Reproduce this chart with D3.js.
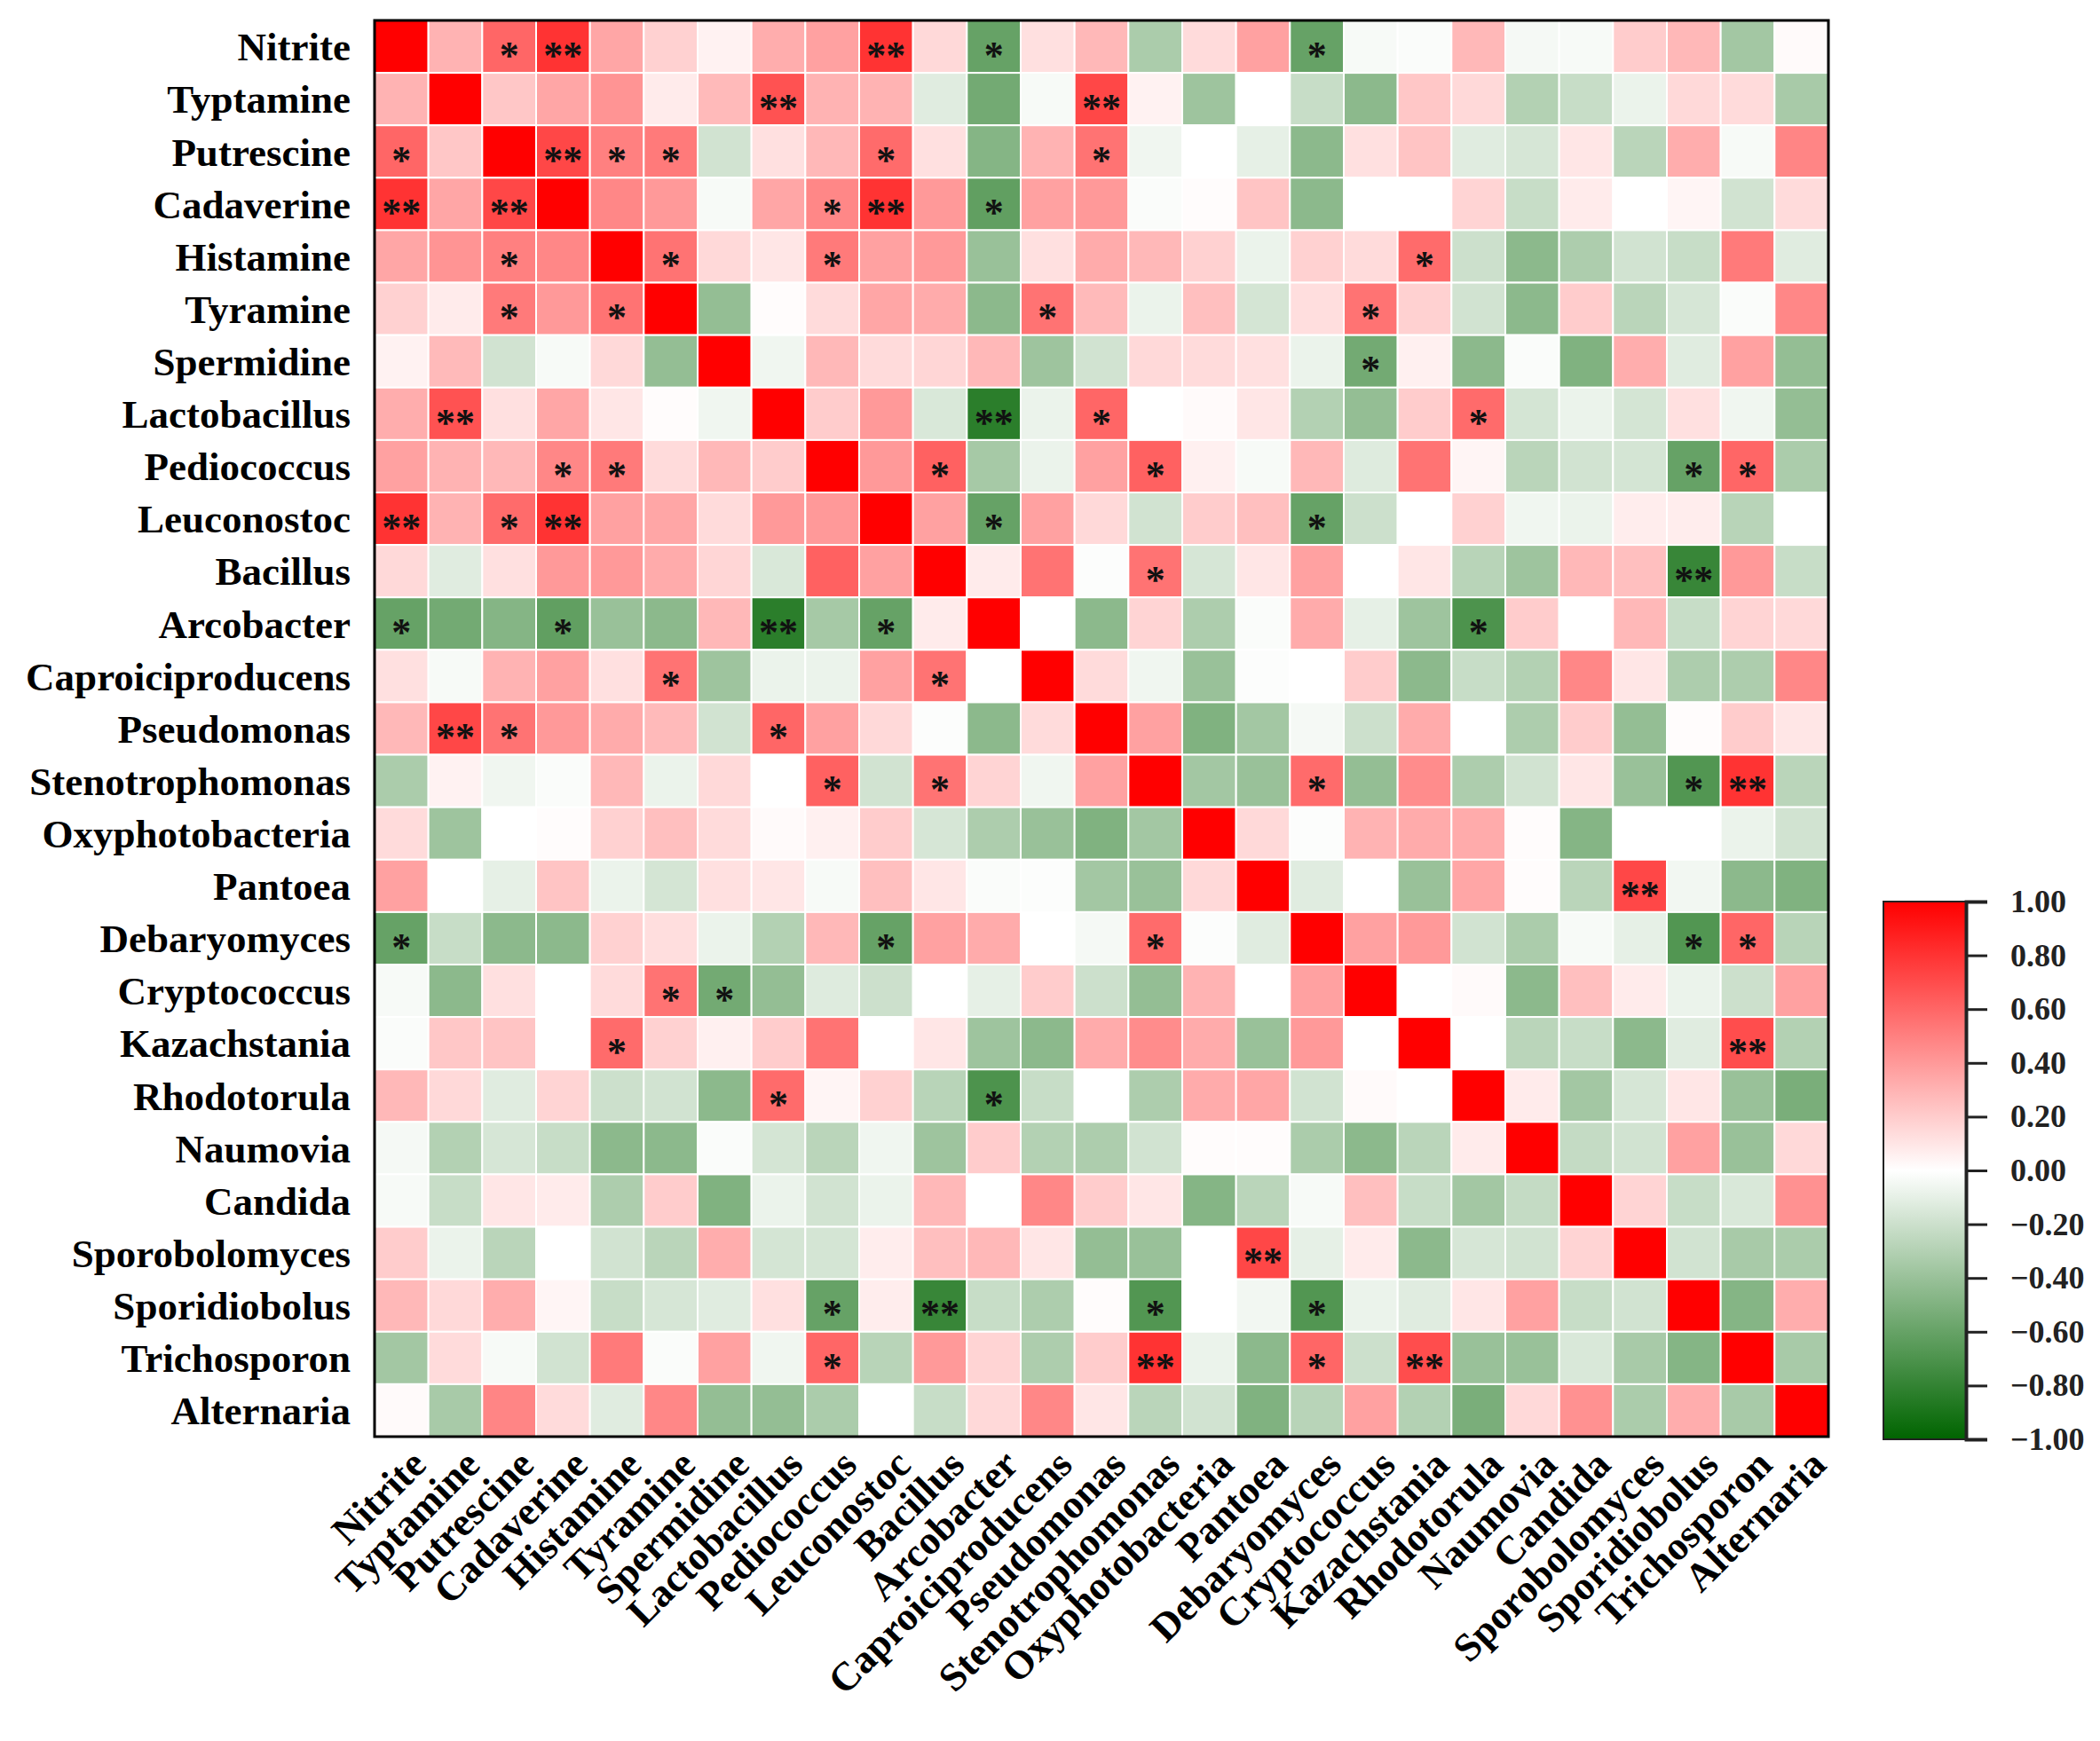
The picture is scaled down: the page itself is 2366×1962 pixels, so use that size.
<!DOCTYPE html>
<html>
<head>
<meta charset="utf-8">
<script src="https://cdn.jsdelivr.net/npm/d3@7"></script>
<style>
  body { margin: 0; background: #fff; }
  text { font-family: "Liberation Serif", "Times New Roman", serif; font-weight: bold; }
</style>
</head>
<body>
<div id="chart"></div>
<script>
// names (rows top->bottom, columns left->right)
const names = [
  "Nitrite","Typtamine","Putrescine","Cadaverine","Histamine","Tyramine","Spermidine",
  "Lactobacillus","Pediococcus","Leuconostoc","Bacillus","Arcobacter","Caproiciproducens",
  "Pseudomonas","Stenotrophomonas","Oxyphotobacteria","Pantoea","Debaryomyces",
  "Cryptococcus","Kazachstania","Rhodotorula","Naumovia","Candida","Sporobolomyces",
  "Sporidiobolus","Trichosporon","Alternaria"
];

// correlation, lower triangle (row i -> columns 0..i-1), matrix is symmetric
const lowerTri = [
  [],
  [0.30],
  [0.60, 0.22],
  [0.80, 0.35, 0.72],
  [0.35, 0.42, 0.50, 0.47],
  [0.18, 0.08, 0.52, 0.40, 0.55],
  [0.05, 0.27, -0.18, -0.03, 0.15, -0.42],
  [0.32, 0.68, 0.12, 0.35, 0.10, 0.01, -0.06],
  [0.37, 0.30, 0.28, 0.47, 0.52, 0.14, 0.28, 0.20],
  [0.80, 0.30, 0.58, 0.80, 0.37, 0.35, 0.14, 0.40, 0.40],
  [0.15, -0.12, 0.12, 0.40, 0.40, 0.33, 0.16, -0.15, 0.62, 0.37],
  [-0.60, -0.55, -0.48, -0.62, -0.40, -0.45, 0.28, -0.83, -0.35, -0.60, 0.08],
  [0.12, -0.03, 0.30, 0.37, 0.12, 0.55, -0.38, -0.08, -0.08, 0.37, 0.55, 0.00],
  [0.28, 0.72, 0.55, 0.40, 0.33, 0.27, -0.18, 0.60, 0.37, 0.15, -0.01, -0.45, 0.14],
  [-0.33, 0.05, -0.06, -0.02, 0.28, -0.08, 0.15, 0.00, 0.62, -0.18, 0.55, 0.17, -0.06, 0.37],
  [0.14, -0.38, 0.00, 0.01, 0.18, 0.25, 0.14, 0.02, 0.06, 0.20, -0.16, -0.32, -0.40, -0.50, -0.36],
  [0.37, 0.00, -0.10, 0.23, -0.08, -0.17, 0.12, 0.10, -0.03, 0.25, 0.10, -0.02, -0.01, -0.36, -0.40, 0.15],
  [-0.60, -0.22, -0.45, -0.45, 0.18, 0.13, -0.08, -0.30, 0.28, -0.60, 0.37, 0.33, 0.00, -0.04, 0.58, -0.01, -0.12],
  [-0.03, -0.45, 0.12, 0.00, 0.14, 0.55, -0.55, -0.42, -0.13, -0.20, 0.00, -0.10, 0.20, -0.20, -0.42, 0.30, 0.00, 0.37],
  [-0.02, 0.22, 0.23, 0.00, 0.58, 0.18, 0.06, 0.20, 0.55, 0.00, 0.10, -0.38, -0.45, 0.33, 0.45, 0.33, -0.40, 0.40, 0.00],
  [0.28, 0.15, -0.12, 0.17, -0.20, -0.18, -0.45, 0.58, 0.04, 0.18, -0.28, -0.70, -0.22, 0.00, -0.32, 0.33, 0.35, -0.18, 0.02, 0.00],
  [-0.04, -0.30, -0.16, -0.22, -0.45, -0.45, -0.02, -0.17, -0.27, -0.06, -0.38, 0.20, -0.30, -0.32, -0.18, 0.01, 0.01, -0.33, -0.45, -0.27, 0.08],
  [-0.03, -0.22, 0.10, 0.08, -0.32, 0.20, -0.50, -0.08, -0.18, -0.08, 0.28, 0.00, 0.47, 0.20, 0.10, -0.48, -0.27, -0.03, 0.25, -0.22, -0.36, -0.23],
  [0.20, -0.08, -0.27, 0.00, -0.18, -0.27, 0.32, -0.17, -0.17, 0.07, 0.25, 0.28, 0.10, -0.42, -0.40, 0.00, 0.72, -0.10, 0.08, -0.45, -0.16, -0.18, 0.17],
  [0.28, 0.15, 0.32, 0.04, -0.22, -0.16, -0.12, 0.12, -0.60, 0.07, -0.78, -0.22, -0.32, 0.01, -0.68, 0.00, -0.05, -0.68, -0.08, -0.12, 0.10, 0.37, -0.22, -0.18],
  [-0.36, 0.14, -0.03, -0.18, 0.52, -0.02, 0.37, -0.06, 0.60, -0.28, 0.40, 0.17, -0.32, 0.20, 0.80, -0.08, -0.45, 0.60, -0.20, 0.70, -0.40, -0.40, -0.15, -0.34, -0.48],
  [0.02, -0.34, 0.48, 0.14, -0.12, 0.47, -0.42, -0.42, -0.33, 0.00, -0.22, 0.15, 0.47, 0.10, -0.27, -0.18, -0.50, -0.28, 0.37, -0.30, -0.52, 0.15, 0.43, -0.33, 0.32, -0.34]
];

// significance marks [row, col, mark] as printed (not fully symmetric)
const sigMarks = [
  [0,2,"*"],[0,3,"**"],[0,9,"**"],[0,11,"*"],[0,17,"*"],
  [1,7,"**"],[1,13,"**"],
  [2,0,"*"],[2,3,"**"],[2,4,"*"],[2,5,"*"],[2,9,"*"],[2,13,"*"],
  [3,0,"**"],[3,2,"**"],[3,8,"*"],[3,9,"**"],[3,11,"*"],
  [4,2,"*"],[4,5,"*"],[4,8,"*"],[4,19,"*"],
  [5,2,"*"],[5,4,"*"],[5,12,"*"],[5,18,"*"],
  [6,18,"*"],
  [7,1,"**"],[7,11,"**"],[7,13,"*"],[7,20,"*"],
  [8,3,"*"],[8,4,"*"],[8,10,"*"],[8,14,"*"],[8,24,"*"],[8,25,"*"],
  [9,0,"**"],[9,2,"*"],[9,3,"**"],[9,11,"*"],[9,17,"*"],
  [10,14,"*"],[10,24,"**"],
  [11,0,"*"],[11,3,"*"],[11,7,"**"],[11,9,"*"],[11,20,"*"],
  [12,5,"*"],[12,10,"*"],
  [13,1,"**"],[13,2,"*"],[13,7,"*"],
  [14,8,"*"],[14,10,"*"],[14,17,"*"],[14,24,"*"],[14,25,"**"],
  [16,23,"**"],
  [17,0,"*"],[17,9,"*"],[17,14,"*"],[17,24,"*"],[17,25,"*"],
  [18,5,"*"],[18,6,"*"],
  [19,4,"*"],[19,25,"**"],
  [20,7,"*"],[20,11,"*"],
  [23,16,"**"],
  [24,8,"*"],[24,10,"**"],[24,14,"*"],[24,17,"*"],
  [25,8,"*"],[25,14,"**"],[25,17,"*"],[25,19,"**"]
];

const legendTicks = [1, 0.8, 0.6, 0.4, 0.2, 0, -0.2, -0.4, -0.6, -0.8, -1];

// full matrix cells
const cells = [];
names.forEach((rn, i) => {
  names.forEach((cn, j) => {
    let v;
    if (i === j) v = 1;
    else if (j < i) v = lowerTri[i][j];
    else v = lowerTri[j][i];
    cells.push({ row: rn, col: cn, value: v });
  });
});

const width = 2366, height = 1962;
const hm = { left: 422, right: 2060, top: 23, bottom: 1619 };

const svg = d3.select("#chart").append("svg")
  .attr("width", width)
  .attr("height", height);

const x = d3.scaleBand().domain(names).range([hm.left, hm.right]);
const y = d3.scaleBand().domain(names).range([hm.top, hm.bottom]);
const color = d3.scaleLinear()
  .domain([-1, 0, 1])
  .range(["#006400", "#ffffff", "#ff0000"]);

// heatmap cells
svg.append("g")
  .selectAll("rect")
  .data(cells)
  .enter()
  .append("rect")
  .attr("x", d => x(d.col))
  .attr("y", d => y(d.row))
  .attr("width", x.bandwidth())
  .attr("height", y.bandwidth())
  .attr("fill", d => color(d.value))
  .attr("stroke", "#fff")
  .attr("stroke-width", 2);

// stars
const starSize = 44;
svg.append("g")
  .selectAll("text")
  .data(sigMarks)
  .enter()
  .append("text")
  .attr("x", d => x(names[d[1]]) + x.bandwidth() / 2)
  .attr("y", d => y(names[d[0]]) + y.bandwidth() / 2 + starSize * 0.55)
  .attr("text-anchor", "middle")
  .attr("font-size", starSize + "px")
  .attr("fill", "#111")
  .text(d => d[2]);

// frame
svg.append("rect")
  .attr("x", hm.left)
  .attr("y", hm.top)
  .attr("width", hm.right - hm.left)
  .attr("height", hm.bottom - hm.top)
  .attr("fill", "none")
  .attr("stroke", "#000")
  .attr("stroke-width", 3);

// row labels
svg.append("g")
  .selectAll("text")
  .data(names)
  .enter()
  .append("text")
  .attr("x", hm.left - 27)
  .attr("y", d => y(d) + y.bandwidth() / 2)
  .attr("dy", "0.35em")
  .attr("text-anchor", "end")
  .attr("font-size", "45px")
  .attr("fill", "#000")
  .text(d => d);

// column labels, rotated
svg.append("g")
  .selectAll("text")
  .data(names)
  .enter()
  .append("text")
  .attr("transform", d => `translate(${x(d) + x.bandwidth() / 2 + 30}, ${hm.bottom + 34}) rotate(-45)`)
  .attr("text-anchor", "end")
  .attr("font-size", "45px")
  .attr("fill", "#000")
  .text(d => d);

// colour bar
const cb = { left: 2122, right: 2215, top: 1016, bottom: 1622 };
const defs = svg.append("defs");
const grad = defs.append("linearGradient")
  .attr("id", "cbGrad")
  .attr("x1", 0).attr("y1", 1).attr("x2", 0).attr("y2", 0);
d3.range(0, 1.0001, 0.05).forEach(t => {
  grad.append("stop")
    .attr("offset", t)
    .attr("stop-color", color(-1 + 2 * t));
});

svg.append("rect")
  .attr("x", cb.left)
  .attr("y", cb.top)
  .attr("width", cb.right - cb.left)
  .attr("height", cb.bottom - cb.top)
  .attr("fill", "url(#cbGrad)")
  .attr("stroke", "#222")
  .attr("stroke-width", 2);

const cbScale = d3.scaleLinear().domain([-1, 1]).range([cb.bottom, cb.top]);
const cbAxis = d3.axisRight(cbScale)
  .tickValues(legendTicks)
  .tickSize(24)
  .tickPadding(26)
  .tickFormat(d3.format(".2f"));

const axisG = svg.append("g")
  .attr("transform", `translate(${cb.right}, 0)`)
  .call(cbAxis);
axisG.select(".domain")
  .attr("stroke", "#222")
  .attr("stroke-width", 4);
axisG.selectAll(".tick line")
  .attr("stroke", "#222")
  .attr("stroke-width", 3);
axisG.selectAll(".tick text")
  .attr("font-size", "36px")
  .attr("font-family", "Liberation Serif, Times New Roman, serif")
  .attr("font-weight", "bold")
  .attr("fill", "#222")
  .text(d => d3.format(".2f")(d).replace("-", "\u2212"));
</script>
</body>
</html>
